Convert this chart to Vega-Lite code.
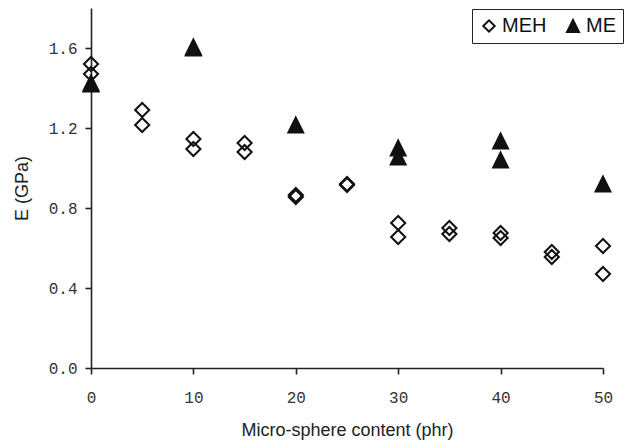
{
  "$schema": "https://vega.github.io/schema/vega-lite/v6.json",
  "autosize": "none",
  "width": 512,
  "height": 360,
  "padding": {"left": 91, "top": 8, "right": 23, "bottom": 74},
  "background": "white",
  "config": {
    "view": {"stroke": null},
    "axis": {
      "grid": false,
      "domainColor": "#222",
      "domainWidth": 1.6,
      "tickColor": "#222",
      "tickWidth": 1.6,
      "tickSize": 6,
      "labelFlush": false,
      "labelFont": "Liberation Mono",
      "labelFontSize": 16,
      "labelColor": "#333",
      "titleFont": "Liberation Sans",
      "titleFontSize": 18,
      "titleFontWeight": "normal",
      "titleColor": "#222"
    },
    "legend": {
      "orient": "none",
      "legendX": 381,
      "legendY": 1,
      "direction": "horizontal",
      "strokeColor": "#222",
      "padding": 7,
      "symbolSize": 130,
      "symbolStrokeWidth": 2,
      "labelFont": "Liberation Sans",
      "labelFontSize": 20,
      "labelColor": "#111",
      "labelOffset": 3,
      "columnPadding": 16
    }
  },
  "data": {
    "values": [
      {"phr": 0, "E": 1.425, "series": "ME"},
      {"phr": 0, "E": 1.42, "series": "ME"},
      {"phr": 10, "E": 1.605, "series": "ME"},
      {"phr": 10, "E": 1.6, "series": "ME"},
      {"phr": 20, "E": 1.215, "series": "ME"},
      {"phr": 30, "E": 1.1, "series": "ME"},
      {"phr": 30, "E": 1.055, "series": "ME"},
      {"phr": 40, "E": 1.135, "series": "ME"},
      {"phr": 40, "E": 1.04, "series": "ME"},
      {"phr": 50, "E": 0.92, "series": "ME"},
      {"phr": 0, "E": 1.52, "series": "MEH"},
      {"phr": 0, "E": 1.47, "series": "MEH"},
      {"phr": 5, "E": 1.29, "series": "MEH"},
      {"phr": 5, "E": 1.215, "series": "MEH"},
      {"phr": 10, "E": 1.145, "series": "MEH"},
      {"phr": 10, "E": 1.095, "series": "MEH"},
      {"phr": 15, "E": 1.125, "series": "MEH"},
      {"phr": 15, "E": 1.08, "series": "MEH"},
      {"phr": 20, "E": 0.865, "series": "MEH"},
      {"phr": 20, "E": 0.855, "series": "MEH"},
      {"phr": 25, "E": 0.92, "series": "MEH"},
      {"phr": 25, "E": 0.915, "series": "MEH"},
      {"phr": 30, "E": 0.725, "series": "MEH"},
      {"phr": 30, "E": 0.655, "series": "MEH"},
      {"phr": 35, "E": 0.7, "series": "MEH"},
      {"phr": 35, "E": 0.67, "series": "MEH"},
      {"phr": 40, "E": 0.675, "series": "MEH"},
      {"phr": 40, "E": 0.65, "series": "MEH"},
      {"phr": 45, "E": 0.58, "series": "MEH"},
      {"phr": 45, "E": 0.555, "series": "MEH"},
      {"phr": 50, "E": 0.61, "series": "MEH"},
      {"phr": 50, "E": 0.47, "series": "MEH"}
    ]
  },
  "mark": {"type": "point", "filled": true, "strokeWidth": 2, "size": 200, "opacity": 1},
  "encoding": {
    "x": {
      "field": "phr", "type": "quantitative",
      "scale": {"domain": [0, 50], "nice": false},
      "axis": {"values": [0, 10, 20, 30, 40, 50], "title": "Micro-sphere content (phr)", "labelPadding": 15, "titleX": 256, "titleY": 67, "titleBaseline": "alphabetic"}
    },
    "y": {
      "field": "E", "type": "quantitative",
      "scale": {"domain": [0, 1.8], "nice": false},
      "axis": {"values": [0, 0.4, 0.8, 1.2, 1.6], "format": ".1f", "title": "E (GPa)", "labelPadding": 8, "titleX": -64, "titleY": 180, "titleBaseline": "alphabetic", "titleAngle": -90}
    },
    "shape": {
      "field": "series", "type": "nominal",
      "scale": {"domain": ["MEH", "ME"], "range": ["diamond", "M0,-1.05L1.05,1.05L-1.05,1.05Z"]},
      "legend": {"title": null}
    },
    "fill": {
      "field": "series", "type": "nominal",
      "scale": {"domain": ["MEH", "ME"], "range": ["transparent", "#111"]},
      "legend": {"title": null}
    },
    "stroke": {
      "field": "series", "type": "nominal",
      "scale": {"domain": ["MEH", "ME"], "range": ["#111", "#111"]},
      "legend": {"title": null}
    },
    "order": {"field": "series", "sort": "descending"}
  }
}
